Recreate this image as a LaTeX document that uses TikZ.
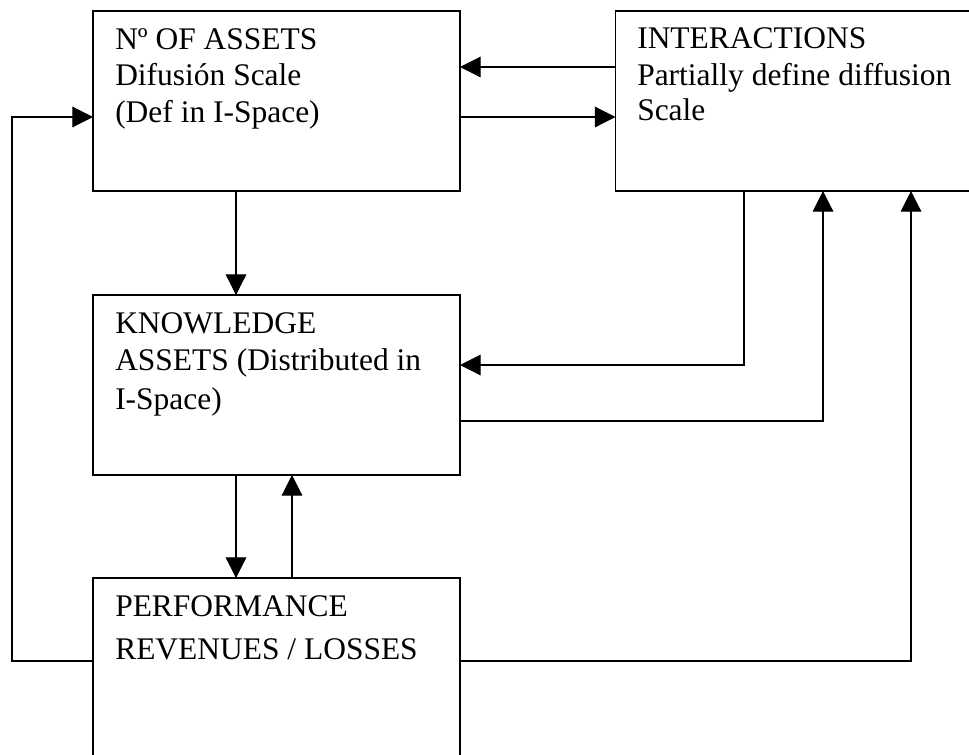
\documentclass[tikz,border=0pt]{standalone}
\usepackage{fontspec}
\setmainfont{Liberation Serif}
\usetikzlibrary{arrows.meta}
\begin{document}
\begin{tikzpicture}[x=0.75pt,y=-0.75pt,
  box/.style={draw, line width=0.9pt, inner sep=0pt, outer sep=0pt, anchor=north west},
  txt/.style={inner sep=0pt, anchor=base west, font=\fontsize{23.6pt}{27pt}\selectfont},
  arr/.style={line width=0.9pt, -{Triangle[length=15.5pt,width=15.5pt]}},
  ln/.style={line width=0.9pt}]
\useasboundingbox (0,0) rectangle (969,754);
\begin{scope}
\clip (0,0) rectangle (969,754);
\node[box, minimum width=367*0.75pt, minimum height=180*0.75pt] (b1) at (93,11) {};
\node[box, minimum width=370*0.75pt, minimum height=180*0.75pt] (b2) at (615.5,11) {};
\node[box, minimum width=367*0.75pt, minimum height=180*0.75pt] (b3) at (93,295) {};
\node[box, minimum width=367*0.75pt, minimum height=184*0.75pt] (b4) at (93,578) {};
\end{scope}
% texts
\node[txt] (t11) at (115,49) {Nº OF ASSETS};
\node[txt] (t12) at (115,85.5) {Difusión Scale};
\node[txt] (t13) at (115,122) {(Def in I-Space)};
\node[txt] (t21) at (637,48.5) {INTERACTIONS};
\node[txt] (t22) at (637,85) {Partially define diffusion};
\node[txt] (t23) at (637,120) {Scale};
\node[txt] (t31) at (115,333) {KNOWLEDGE};
\node[txt] (t32) at (115,370) {ASSETS (Distributed in};
\node[txt] (t33) at (115,409) {I-Space)};
\node[txt] (t41) at (115,616.5) {PERFORMANCE};
\node[txt] (t42) at (115,659) {REVENUES / LOSSES};
% connectors
\coordinate (lft) at (12,661);
\draw[arr] (b2.west |- 0,67) -- (b1.east |- 0,67);
\draw[arr] (b1.east |- 0,117) -- (b2.west |- 0,117);
\draw[arr] (b4.west |- lft) -- (lft) |- (b1.west |- 0,117);
\draw[arr] (b1.south -| 236,0) -- (b3.north -| 236,0);
\draw[arr] (b2.south -| 744,0) |- (b3.east |- 0,365);
\draw[arr] (b3.east |- 0,421) -| (b2.south -| 823,0);
\draw[arr] (b4.east |- 0,661) -| (b2.south -| 911,0);
\draw[arr] (b3.south -| 236,0) -- (b4.north -| 236,0);
\draw[arr] (b4.north -| 292,0) -- (b3.south -| 292,0);
\end{tikzpicture}
\end{document}
